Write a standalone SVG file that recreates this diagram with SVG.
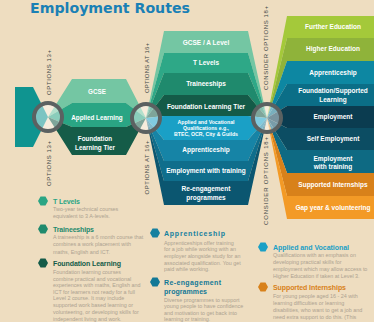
<svg xmlns="http://www.w3.org/2000/svg" width="374" height="322" viewBox="0 0 374 322">
<defs>
<style>
text{font-family:"Liberation Sans",Arial,sans-serif}
.w{fill:#fff;font-weight:bold;font-size:6.5px;text-anchor:middle}
.ws{font-size:5.2px}
.vl{fill:#3d4646;font-size:6px;text-anchor:middle}
.lt{font-weight:bold;font-size:7px}
.ld{fill:#ada290;font-size:5.4px}
.hubfill{fill:#fff;fill-opacity:.45}
.ring{fill:none;stroke:#5b6161;stroke-width:4}
</style>
<polygon id="hex" points="5,0 2.5,4.4 -2.5,4.4 -5,0 -2.5,-4.4 2.5,-4.4"/>
</defs>
<rect width="374" height="322" fill="#eeddc0"/>
<text x="30" y="13" style="font-family:'DejaVu Sans',sans-serif;font-weight:bold;font-size:14px;fill:#1a80b5" textLength="160" lengthAdjust="spacingAndGlyphs">Employment Routes</text>

<g id="start"><polygon points="15,87 33,87 48,117 33,147 15,147" fill="#0f9490"/></g>

<g id="opt13-gcse"><polygon points="48,117 72,79 126,79 146,118 126,103 72,103" fill="#74c6a3"/><text class="w" x="97" y="93.5" style="font-size:6.3px">GCSE</text></g>
<g id="opt13-applied"><polygon points="48,117 72,103 126,103 146,118 126,127 72,127" fill="#2aa584"/><text class="w" x="97" y="119.5" style="font-size:6.3px">Applied Learning</text></g>
<g id="opt13-foundation"><polygon points="48,117 72,127 126,127 146,118 126,155 72,155" fill="#155c48"/><text class="w" x="95" y="141" style="font-size:6.3px">Foundation</text><text class="w" x="95" y="150" style="font-size:6.3px">Learning Tier</text></g>

<g id="opt16-gcse"><polygon points="146,118 164,31 248,31 267,118 248,53 164,53" fill="#74c6a3"/><text class="w" x="206" y="44.5">GCSE / A Level</text></g>
<g id="opt16-tlevels"><polygon points="146,118 164,53 248,53 267,118 248,73 164,73" fill="#2ea887"/><text class="w" x="206" y="65.3">T Levels</text></g>
<g id="opt16-traineeships"><polygon points="146,118 164,73 248,73 267,118 248,95 164,95" fill="#1f8a6d"/><text class="w" x="206" y="85.5">Traineeships</text></g>
<g id="opt16-foundation"><polygon points="146,118 164,95 248,95 267,118 248,116 164,116" fill="#145b48"/><text class="w" x="206" y="109.3">Foundation Learning Tier</text></g>
<g id="opt16-applied"><polygon points="146,118 164,116 248,116 267,118 248,140 164,140" fill="#1aa0c6"/><text class="w ws" x="206" y="123.6">Applied and Vocational</text><text class="w ws" x="206" y="130.2">Qualifications e.g.,</text><text class="w ws" x="206" y="136">BTEC, OCR, City &amp; Guilds</text></g>
<g id="opt16-apprenticeship"><polygon points="146,118 164,140 248,140 267,118 248,161 164,161" fill="#1684a6"/><text class="w" x="206" y="152.3">Apprenticeship</text></g>
<g id="opt16-employment"><polygon points="146,118 164,161 248,161 267,118 248,181 164,181" fill="#0f6e8c"/><text class="w" x="206" y="173.3">Employment with training</text></g>
<g id="opt16-reengagement"><polygon points="146,118 164,181 248,181 267,118 248,205 164,205" fill="#0b5670"/><text class="w" x="206" y="190.5">Re-engagement</text><text class="w" x="206" y="199.5">programmes</text></g>

<g id="opt18-fe"><polygon points="267,118 287,16 374,16 374,38 287,38" fill="#a4c93a"/><text class="w" x="333" y="29.3">Further Education</text></g>
<g id="opt18-he"><polygon points="267,118 287,38 374,38 374,61 287,61" fill="#8fb33a"/><text class="w" x="333" y="51.3">Higher Education</text></g>
<g id="opt18-apprenticeship"><polygon points="267,118 287,61 374,61 374,84 287,84" fill="#0d87a2"/><text class="w" x="333" y="75.3">Apprenticeship</text></g>
<g id="opt18-foundation"><polygon points="267,118 287,84 374,84 374,106 287,106" fill="#0b6e87"/><text class="w" x="333" y="93.3">Foundation/Supported</text><text class="w" x="333" y="101.5">Learning</text></g>
<g id="opt18-employment"><polygon points="267,118 287,106 374,106 374,128 287,128" fill="#0b3c50"/><text class="w" x="333" y="119.3">Employment</text></g>
<g id="opt18-self"><polygon points="267,118 287,128 374,128 374,150 287,150" fill="#0c4d63"/><text class="w" x="333" y="141.3">Self Employment</text></g>
<g id="opt18-training"><polygon points="267,118 287,150 374,150 374,173 287,173" fill="#0e6a83"/><text class="w" x="333" y="160.5">Employment</text><text class="w" x="333" y="168.5">with training</text></g>
<g id="opt18-internships"><polygon points="267,118 287,173 374,173 374,196 287,196" fill="#d8811a"/><text class="w" x="333" y="187.3">Supported Internships</text></g>
<g id="opt18-gap"><polygon points="267,118 287,196 374,196 374,219 287,219" fill="#f39a26"/><text class="w" x="333" y="210.3">Gap year &amp; volunteering</text></g>

<g id="hub13"><circle cx="48" cy="117" r="14" class="hubfill"/><circle cx="48" cy="117" r="14" class="ring"/></g>
<g id="hub16"><circle cx="146" cy="118" r="14" class="hubfill"/><circle cx="146" cy="118" r="14" class="ring"/></g>
<g id="hub18"><circle cx="267" cy="118" r="14" class="hubfill"/><circle cx="267" cy="118" r="14" class="ring"/></g>

<g id="labels">
<text class="vl" transform="translate(51.2,72.5) rotate(-90)" textLength="45" lengthAdjust="spacing">OPTIONS 13+</text>
<text class="vl" transform="translate(51.2,163.5) rotate(-90)" textLength="45" lengthAdjust="spacing">OPTIONS 13+</text>
<text class="vl" transform="translate(149.2,68) rotate(-90)" textLength="50" lengthAdjust="spacing">OPTIONS AT 16+</text>
<text class="vl" transform="translate(149.2,167.5) rotate(-90)" textLength="54" lengthAdjust="spacing">OPTIONS AT 16+</text>
<text class="vl" transform="translate(268.2,48) rotate(-90)" textLength="84" lengthAdjust="spacing">CONSIDER OPTIONS 18+</text>
<text class="vl" transform="translate(268.2,181) rotate(-90)" textLength="88" lengthAdjust="spacing">CONSIDER OPTIONS 18+</text>
</g>

<g id="key-tlevels"><use href="#hex" x="43" y="201" fill="#2aa584"/><text class="lt" x="53" y="204" fill="#2aa584" textLength="27">T Levels</text>
<text class="ld" x="53" y="211">Two-year technical courses</text><text class="ld" x="53" y="218">equivalent to 3 A-levels.</text></g>
<g id="key-traineeships"><use href="#hex" x="43" y="229" fill="#1f8a6d"/><text class="lt" x="53" y="232" fill="#1f8a6d" textLength="41">Traineeships</text>
<text class="ld" x="53" y="238.5">A traineeship is a 6 month course that</text><text class="ld" x="53" y="246">combines a work placement with</text><text class="ld" x="53" y="253.5">maths, English and ICT.</text></g>
<g id="key-foundation"><use href="#hex" x="43" y="263" fill="#145b48"/><text class="lt" x="53" y="266" fill="#145b48" textLength="68">Foundation Learning</text>
<text class="ld" x="53" y="274">Foundation learning courses</text><text class="ld" x="53" y="280.5">combine practical and vocational</text><text class="ld" x="53" y="287">experiences with maths, English and</text><text class="ld" x="53" y="293.5">ICT for learners not ready for a full</text><text class="ld" x="53" y="300">Level 2 course. It may include</text><text class="ld" x="53" y="307">supported work based learning or</text><text class="ld" x="53" y="314">volunteering, or developing skills for</text><text class="ld" x="53" y="321">independent living and work.</text></g>
<g id="key-apprenticeship"><use href="#hex" x="155" y="233" fill="#16809f"/><text class="lt" x="164" y="236" fill="#16809f" textLength="61">Apprenticeship</text>
<text class="ld" x="164" y="245">Apprenticeships offer training</text><text class="ld" x="164" y="251">for a job while working with an</text><text class="ld" x="164" y="258">employer alongside study for an</text><text class="ld" x="164" y="264.5">associated qualification. You get</text><text class="ld" x="164" y="271">paid while working.</text></g>
<g id="key-reengagement"><use href="#hex" x="155" y="282" fill="#127896"/><text class="lt" x="164" y="285" fill="#127896" textLength="57">Re-engagement</text><text class="lt" x="164" y="294" fill="#127896" textLength="43">programmes</text>
<text class="ld" x="164" y="302">Diverse programmes to support</text><text class="ld" x="164" y="308">young people to have confidence</text><text class="ld" x="164" y="314.5">and motivation to get back into</text><text class="ld" x="164" y="321">learning or training.</text></g>
<g id="key-applied"><use href="#hex" x="263" y="247" fill="#1aa0c6"/><text class="lt" x="273" y="250" fill="#1aa0c6" textLength="76">Applied and Vocational</text>
<text class="ld" x="273" y="257">Qualifications with an emphasis on</text><text class="ld" x="273" y="263.5">developing practical skills for</text><text class="ld" x="273" y="271">employment which may allow access to</text><text class="ld" x="273" y="278">Higher Education if taken at Level 3.</text></g>
<g id="key-internships"><use href="#hex" x="263" y="287" fill="#d8811a"/><text class="lt" x="273" y="290" fill="#d8811a" textLength="73">Supported Internships</text>
<text class="ld" x="273" y="298">For young people aged 16 - 24 with</text><text class="ld" x="273" y="304.5">learning difficulties or learning</text><text class="ld" x="273" y="312">disabilities, who want to get a job and</text><text class="ld" x="273" y="318.5">need extra support to do this. (This</text></g>
</svg>
